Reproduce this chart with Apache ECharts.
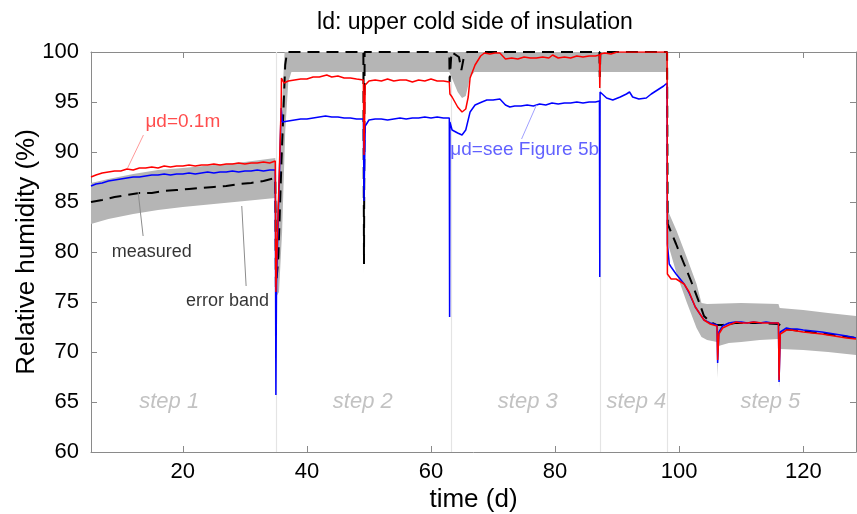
<!DOCTYPE html>
<html>
<head>
<meta charset="utf-8">
<script src="https://cdn.jsdelivr.net/npm/echarts@6/dist/echarts.min.js"></script>
<style>
  html, body { margin: 0; padding: 0; background: #fff; }
  #chart { width: 857px; height: 514px; }
</style>
</head>
<body>
<div id="chart"></div>
<script>
// values: [day, relative humidity %]
var redData = [
  [5.2, 87.5], [6, 87.7], [7, 87.9], [8, 88.0], [9, 88.1], [10, 88.1], [11, 88.3], [12, 88.2], [13, 88.4],
  [14, 88.4], [15, 88.5], [16, 88.4], [17, 88.6], [18, 88.5], [19, 88.6], [20, 88.6], [21, 88.7], [22, 88.6],
  [23, 88.7], [24, 88.7], [25, 88.8], [26, 88.7], [27, 88.8], [28, 88.8], [29, 88.9], [30, 88.8], [31, 88.9],
  [32, 88.9], [33, 89.0], [34, 88.9], [34.9, 89.1],
  [35.0, 76.0], [35.85, 94.7], [35.9, 97.4], [36.3, 96.9], [37, 97.1], [38, 97.2], [39, 97.3], [40, 97.3],
  [41, 97.5], [42, 97.5], [43.2, 97.7], [44, 97.5], [45, 97.6], [46, 97.4], [47, 97.4], [48, 97.3], [49.1, 97.2],
  [49.2, 89.7], [49.4, 96.7], [50, 97.1], [51, 97.2], [52, 97.1], [53, 97.3], [54, 97.1], [55, 97.2], [56, 97.2],
  [57, 97.0], [58, 97.2], [59, 97.1], [60, 97.3], [61, 97.1], [62, 97.1], [62.95, 97.0],
  [63.05, 95.8], [63.4, 95.5], [64.3, 94.5], [65.0, 94.0], [65.6, 94.3], [66.0, 95.5], [66.3, 97.4], [67.1, 98.7],
  [68.0, 99.6], [68.6, 99.9], [69.5, 99.8], [70.3, 99.9], [71.1, 99.9], [72.0, 99.3], [73, 99.4], [74, 99.3],
  [75, 99.5], [76, 99.4], [77, 99.4], [78, 99.5], [79, 99.4], [79.6, 99.7], [80.5, 99.4], [81.5, 99.5],
  [82.5, 99.4], [83.5, 99.6], [84.5, 99.5], [85.5, 99.6], [86.5, 99.6], [87.15, 99.7],
  [87.2, 96.4], [87.3, 99.8], [88, 99.9], [89, 99.8], [90, 100], [98.05, 100],
  [98.1, 77.8], [98.7, 77.3], [99.5, 77.3], [100.8, 76.8], [101.6, 76.0], [102.6, 74.5], [104.0, 73.2],
  [105.0, 72.8], [106.1, 72.6], [106.2, 69.2], [106.4, 71.8], [107.0, 72.4], [108, 72.7], [109.2, 73.0],
  [110, 72.9], [111, 72.9], [112, 73.0], [113.4, 72.9], [114.5, 72.9], [116.0, 72.9], [116.1, 67.2],
  [116.3, 71.8], [117.3, 72.2], [118, 72.2], [119, 72.1], [120, 72.0], [121.5, 71.9], [123, 71.8],
  [124, 71.7], [125, 71.6], [126, 71.5], [127, 71.4], [128.5, 71.3]
];

var blueData = [
  [5.2, 86.6], [6, 86.8], [7, 86.9], [8, 87.1], [9, 87.2], [10, 87.3], [11, 87.4], [12, 87.5], [13, 87.5],
  [14, 87.6], [15, 87.7], [16, 87.7], [17, 87.8], [18, 87.7], [19, 87.8], [20, 87.8], [21, 87.9], [22, 87.8],
  [23, 87.9], [24, 88.0], [25, 87.9], [26, 88.0], [27, 88.0], [28, 88.1], [29, 88.0], [30, 88.1], [31, 88.1],
  [32, 88.2], [33, 88.1], [34, 88.2], [34.9, 88.2],
  [35.0, 65.7], [35.1, 76.8], [35.85, 94.4], [36.05, 93.0], [37, 93.1], [38, 93.2], [39, 93.3], [40, 93.3],
  [41, 93.4], [42, 93.5], [43, 93.6], [44, 93.5], [45, 93.5], [46, 93.4], [47, 93.4], [48, 93.3], [49.1, 93.3],
  [49.2, 85.1], [49.4, 92.6], [50, 93.2], [51, 93.3], [52, 93.3], [53, 93.2], [54, 93.3], [55, 93.4], [56, 93.3],
  [57, 93.4], [58, 93.4], [59, 93.5], [60, 93.4], [61, 93.5], [62, 93.4], [62.95, 93.4],
  [63.0, 73.5], [63.05, 93.0], [63.4, 92.2], [64.3, 91.9], [65.0, 91.7], [65.6, 92.2], [66.3, 94.0], [67.1, 94.7],
  [68.2, 95.0], [69, 95.2], [70, 95.2], [71.1, 95.3], [72, 94.7], [72.7, 94.5], [73.5, 94.6], [74.5, 94.6],
  [75.5, 94.7], [76.5, 94.6], [77.5, 94.8], [78.5, 94.7], [79.5, 94.9], [80.5, 94.8], [81.5, 94.9], [82.5, 94.9],
  [83.5, 95.0], [84.5, 94.9], [85.5, 95.0], [86.5, 95.0], [87.15, 95.1],
  [87.2, 77.5], [87.25, 96.0], [87.5, 95.9], [88.3, 95.4], [89.3, 95.2], [90.5, 95.5], [91.5, 95.8], [92.0, 96.0],
  [92.5, 95.5], [93.5, 95.3], [94.7, 95.4], [95.5, 95.8], [96.5, 96.2], [97.5, 96.6], [98.05, 96.9],
  [98.1, 80.8], [98.4, 78.8], [98.7, 78.5], [99.5, 77.8], [100.8, 76.8], [101.6, 75.9], [102.6, 74.5],
  [104.0, 73.2], [105.0, 72.9], [106.1, 72.7], [106.2, 68.9], [106.4, 72.0], [107, 72.6], [108, 72.9],
  [109, 73.0], [110, 73.0], [111, 72.9], [112, 73.0], [113, 72.9], [114, 73.0], [115, 72.9], [116.0, 72.9],
  [116.1, 67.0], [116.3, 72.0], [117.3, 72.4], [118, 72.3], [119, 72.3], [120, 72.2], [121.5, 72.1],
  [123, 72.0], [124, 71.9], [125, 71.8], [126, 71.7], [127, 71.6], [128.5, 71.4]
];

var measuredData = [
  [5.2, 85.0], [7, 85.2], [9, 85.5], [11, 85.7], [13, 85.9], [15, 85.9], [17, 86.1], [19, 86.2], [21, 86.3],
  [23, 86.4], [25, 86.5], [27, 86.6], [29, 86.8], [31, 86.9], [33, 87.1], [34.9, 87.4],
  [35.0, 76.5], [35.4, 79.5], [35.9, 89.1], [36.5, 98.7], [36.8, 100], [49.1, 100], [49.2, 78.8], [49.3, 100],
  [62.95, 100], [63.0, 97.0], [63.3, 100], [64.5, 99.5], [64.9, 98.2], [65.3, 99.5], [65.8, 100],
  [87.15, 100], [87.2, 97.5], [87.3, 100], [98.05, 100],
  [98.15, 82.8], [99.5, 80.8], [100.8, 78.8], [102.1, 76.8], [103.2, 75.0], [104.0, 73.6], [105, 73.0],
  [106, 72.7], [107, 72.7], [109, 72.9], [113, 72.9], [116, 72.8], [117, 72.3], [121, 72.0], [125, 71.7],
  [128.5, 71.4]
];

var bandUpper = [
  [5.2, 86.9], [8, 87.3], [12, 87.8], [16, 88.2], [20, 88.4], [25, 88.7], [30, 89.0], [34.9, 89.4],
  [35.05, 84.0], [35.5, 86.0], [36.0, 95.0], [36.4, 100], [98.05, 100],
  [98.2, 84.1], [99.6, 82.1], [101.2, 79.5], [102.8, 76.8], [103.6, 74.9], [104.5, 74.8], [110, 74.9],
  [116.0, 74.8], [116.2, 74.4], [120, 74.2], [124, 73.9], [128.5, 73.6]
];

var bandLower = [
  [5.2, 82.8], [8, 83.3], [12, 83.8], [16, 84.2], [20, 84.5], [25, 84.8], [30, 85.1], [34.9, 85.4],
  [35.05, 75.5], [35.5, 76.0], [36.0, 82.0], [36.5, 92.0], [37.0, 97.0], [37.5, 98.0], [49.1, 98.0],
  [49.2, 77.8], [49.3, 98.0], [62.95, 98.0], [63.3, 97.5], [64.3, 96.0], [65.0, 95.4], [65.6, 95.6],
  [66.3, 97.5], [67.0, 98.0], [98.05, 98.0],
  [98.2, 80.8], [99.6, 77.8], [101.2, 75.0], [102.8, 72.4], [103.6, 71.5], [104.5, 71.2], [106.1, 71.0],
  [106.2, 67.4], [106.35, 70.6], [108, 70.9], [110, 71.0], [113, 71.2], [116.0, 71.3], [116.1, 66.4],
  [116.3, 70.3], [120, 70.2], [124, 70.0], [128.5, 69.7]
];

var stepDays = [35.0, 63.3, 87.2, 98.1];
var stepNames = ['step 1', 'step 2', 'step 3', 'step 4', 'step 5'];
var stepNameDays = [17.8, 49.0, 75.6, 93.1, 114.7];
var stepNameLevel = 65;

var xTicks = [20, 40, 60, 80, 100, 120];

// annotations: text, [day, RH] of text centre, leader line from / to
var noteTexts = ['μd=0.1m', 'μd=see Figure 5b', 'measured', 'error band'];
var notePos = [[20.0, 93.0], [75.1, 90.2], [15.0, 80.0], [27.2, 75.1]];
var noteLeaders = [
  [[13.65, 91.7], [11.1, 88.4]],
  [[74.6, 91.3], [77.0, 94.7]],
  [[12.8, 86.0], [13.6, 81.6]],
  [[29.5, 84.6], [30.2, 76.6]]
];

var FONT = '"Liberation Sans", Arial, Helvetica, sans-serif';
var noteColors = ['#ff2020', '#3a3aff', '#000', '#000'];
var leaderColors = ['#ff9a9a', '#a0a0ff', '#8c8c8c', '#8c8c8c'];

var chart = echarts.init(document.getElementById('chart'));

function axisX(pos, showLabels) {
  return {
    type: 'value', position: pos, min: 5.2, max: 128.5,
    axisLine: { show: true, onZero: false, lineStyle: { color: '#8a8a8a', width: 1 } },
    axisTick: { show: true, inside: true, length: 6, customValues: xTicks, lineStyle: { color: '#8a8a8a' } },
    axisLabel: { show: showLabels, customValues: xTicks, fontSize: 22, color: '#000', fontFamily: FONT, margin: 9 },
    splitLine: { show: false }
  };
}

var option = {
  animation: false,
  title: {
    text: 'ld: upper cold side of insulation',
    left: 470, top: 6, textAlign: 'center',
    textStyle: { fontSize: 23, fontWeight: 'normal', color: '#000', fontFamily: FONT }
  },
  grid: { left: 91, right: 1, top: 52, bottom: 62, outerBoundsMode: 'none', containLabel: false },
  xAxis: [
    Object.assign(axisX('bottom', true), {
      name: 'time (d)', nameLocation: 'middle', nameGap: 35, nameMoveOverlap: false,
      nameTextStyle: { fontSize: 26, color: '#000', fontFamily: FONT }
    }),
    axisX('top', false)
  ],
  yAxis: [
    {
      type: 'value', position: 'left', min: 60, max: 100, interval: 5,
      axisLine: { show: true, onZero: false, lineStyle: { color: '#8a8a8a' } },
      axisTick: { show: true, inside: true, length: 6, lineStyle: { color: '#8a8a8a' } },
      axisLabel: { fontSize: 22, color: '#000', fontFamily: FONT, margin: 12 },
      splitLine: { show: false },
      name: 'Relative humidity (%)', nameLocation: 'middle', nameGap: 51, nameRotate: 90,
      nameMoveOverlap: false,
      nameTextStyle: { fontSize: 26, color: '#000', fontFamily: FONT }
    },
    {
      type: 'value', position: 'right', min: 60, max: 100, interval: 5,
      axisLine: { show: true, onZero: false, lineStyle: { color: '#8a8a8a' } },
      axisTick: { show: true, inside: true, length: 6, lineStyle: { color: '#8a8a8a' } },
      axisLabel: { show: false },
      splitLine: { show: false }
    }
  ],
  series: [
    {
      name: 'steps', type: 'lines', coordinateSystem: 'cartesian2d', silent: true, z: 1,
      lineStyle: { color: '#e4e4e4', width: 1.2, opacity: 1 },
      data: stepDays.map(function (d) { return { coords: [[d, 60], [d, 100]] }; })
    },
    {
      name: 'error band', type: 'custom', silent: true, z: 2, clip: true,
      data: [bandUpper[0]],
      renderItem: function (params, api) {
        var pts = bandUpper.map(function (p) { return api.coord(p); })
          .concat(bandLower.slice().reverse().map(function (p) { return api.coord(p); }));
        return { type: 'polygon', shape: { points: pts }, style: { fill: '#b5b5b5', stroke: 'none' } };
      }
    },
    {
      name: 'measured', type: 'line', data: measuredData, showSymbol: false, z: 3,
      lineStyle: { color: '#000', width: 2, type: [12, 7] }
    },
    {
      name: 'blue', type: 'line', data: blueData, showSymbol: false, z: 4,
      lineStyle: { color: '#0000ff', width: 1.5 }
    },
    {
      name: 'red', type: 'line', data: redData, showSymbol: false, z: 5,
      lineStyle: { color: '#ff0000', width: 1.5 }
    },
    {
      name: 'leaders', type: 'lines', coordinateSystem: 'cartesian2d', silent: true, z: 6,
      data: noteLeaders.map(function (l, i) {
        return { coords: l, lineStyle: { color: leaderColors[i], width: 1, opacity: 1 } };
      })
    },
    {
      name: 'notes', type: 'scatter', symbolSize: 0, silent: true, z: 7,
      data: noteTexts.map(function (t, i) {
        return {
          name: t, value: notePos[i],
          label: { color: noteColors[i], fontSize: i < 2 ? 19 : 18 }
        };
      }),
      label: {
        show: true, position: [0, 0], align: 'center', verticalAlign: 'middle',
        fontFamily: FONT, formatter: '{b}'
      }
    },
    {
      name: 'step labels', type: 'scatter', symbolSize: 0, silent: true, z: 7,
      data: stepNames.map(function (t, i) { return { name: t, value: [stepNameDays[i], stepNameLevel] }; }),
      label: {
        show: true, position: [0, 0], align: 'center', verticalAlign: 'middle',
        fontFamily: FONT, fontSize: 22, fontStyle: 'italic', color: '#b3b3b3', formatter: '{b}'
      }
    }
  ]
};

chart.setOption(option);
</script>
</body>
</html>
